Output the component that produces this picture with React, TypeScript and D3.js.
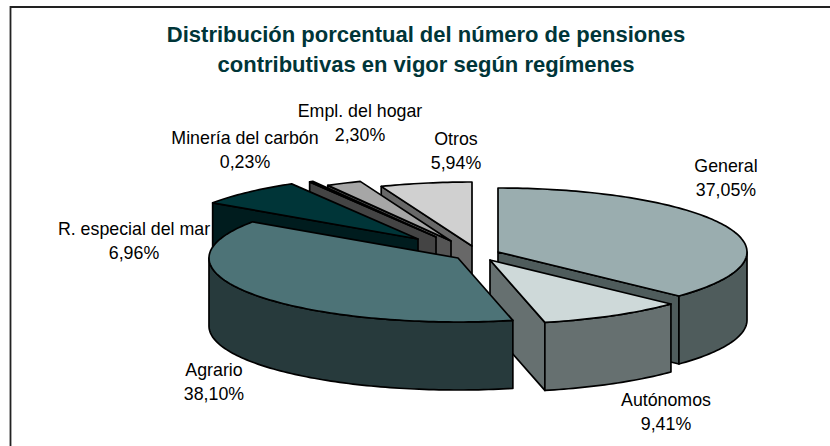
import React from 'react';
import * as d3 from 'd3';

const categories = ['General', 'Autónomos', 'Agrario', 'R. especial del mar', 'Minería del carbón', 'Empl. del hogar', 'Otros'];
const shares = [37.05, 9.41, 38.1, 6.96, 0.23, 2.3, 5.94];
const shareLabels = ['37,05%', '9,41%', '38,10%', '6,96%', '0,23%', '2,30%', '5,94%'];
const titleLines = ['Distribución porcentual del número de pensiones', 'contributivas en vigor según regímenes'];

// how far each slice was pulled out of the pie, in px from the pie centre
const pullX = [18, 10, -22, -62, -44, -29, -8];
const pullY = [-3, 5, 3, -16, -18, -14, -9];

const topColors = ['#9aadaf', '#ced9d9', '#4d7377', '#003538', '#5a5a5a', '#a6a6a6', '#d0d0d0'];
const wallColors = ['#4f5c5c', '#667070', '#273a3c', '#001c1e', '#444444', '#555555', '#686868'];
// painted back to front
const paintOrder = [6, 5, 4, 3, 0, 1, 2];

const labelPos: [number, number][] = [
  [726, 172],
  [666, 406],
  [214, 376],
  [134, 235],
  [245, 144],
  [360, 117],
  [456, 145],
];

const width = 830;
const height = 446;
const cx = 480;
const cy = 255;
const rx = 249;
const ry = 64;
const depth = 68;

const pie = d3.pie<number>().sort(null).value((d) => d)(shares);

const onRim = (a: number, ox: number, oy: number, drop = 0): [number, number] => [
  ox + rx * Math.sin(a),
  oy - ry * Math.cos(a) + drop,
];

const arcPoints = (a0: number, a1: number, ox: number, oy: number, drop = 0) => {
  const steps = Math.max(2, Math.ceil((a1 - a0) / 0.02));
  return d3.range(steps + 1).map((i) => onRim(a0 + ((a1 - a0) * i) / steps, ox, oy, drop));
};

const line = d3.line();
const closed = (pts: [number, number][]) => line(pts) + 'Z';

const Slice = ({ index }: { index: number }) => {
  const { startAngle: a0, endAngle: a1 } = pie[index];
  const ox = cx + pullX[index];
  const oy = cy + pullY[index];
  const apex: [number, number] = [ox, oy];
  const apexLow: [number, number] = [ox, oy + depth];
  const wall = wallColors[index];

  const radialWall = (a: number) =>
    closed([apex, onRim(a, ox, oy), onRim(a, ox, oy, depth), apexLow]);

  // only the part of the rim between 3 and 9 o'clock faces the viewer
  const v0 = Math.max(a0, Math.PI / 2);
  const v1 = Math.min(a1, (3 * Math.PI) / 2);
  const rimWall =
    v1 > v0 ? closed([...arcPoints(v0, v1, ox, oy), ...arcPoints(v0, v1, ox, oy, depth).reverse()]) : null;

  return (
    <g stroke="#000" strokeWidth={1.7} strokeLinejoin="round">
      {/* radial walls: start wall faces us in the back half, end wall in the front half */}
      {Math.sin(a0) < 0 && <path d={radialWall(a0)} fill={wall} />}
      {Math.sin(a1) > 0 && <path d={radialWall(a1)} fill={wall} />}
      {rimWall && <path d={rimWall} fill={wall} />}
      <path d={closed([apex, ...arcPoints(a0, a1, ox, oy)])} fill={topColors[index]} />
    </g>
  );
};

export default function App() {
  return (
    <svg
      width={width}
      height={height}
      style={{ position: 'absolute', left: 0, top: 0, background: '#fff' }}
      fontFamily="'Liberation Sans', Arial, sans-serif"
    >
      {/* the frame is cropped: only its left and top sides are in the picture */}
      <path d={`M10.5,${height}V7H${width}`} fill="none" stroke="#222" strokeWidth={1.8} />
      {titleLines.map((t, i) => (
        <text key={t} x={426} y={42 + i * 30} textAnchor="middle" fontSize={22} fontWeight="bold" fill="#003538">
          {t}
        </text>
      ))}
      {paintOrder.map((i) => (
        <Slice key={categories[i]} index={i} />
      ))}
      {categories.map((c, i) => (
        <text key={c} textAnchor="middle" fontSize={17.8} fill="#000">
          <tspan x={labelPos[i][0]} y={labelPos[i][1]}>
            {c}
          </tspan>
          <tspan x={labelPos[i][0]} y={labelPos[i][1] + 24}>
            {shareLabels[i]}
          </tspan>
        </text>
      ))}
    </svg>
  );
}
